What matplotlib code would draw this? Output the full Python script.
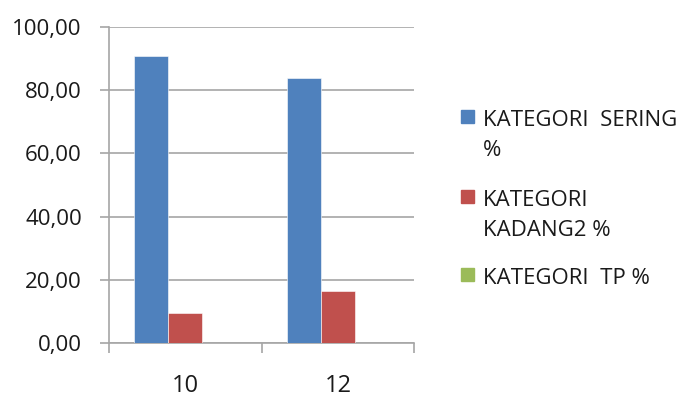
import matplotlib
matplotlib.use("Agg")
import matplotlib.pyplot as plt
from matplotlib.patches import Rectangle
from matplotlib.ticker import FuncFormatter, MultipleLocator

categories = ["10", "12"]
series_names = ["KATEGORI  SERING\n%", "KATEGORI\nKADANG2 %", "KATEGORI  TP %"]
sering = [90.7, 83.9]
kadang = [9.7, 16.5]
tp = [0.0, 0.0]
colors = ["#4f81bd", "#c0504d", "#9bbb59"]

plt.rcParams["font.family"] = ["Open Sans", "DejaVu Sans"]

fig = plt.figure(figsize=(6.86, 3.98), dpi=100)
ax = fig.add_axes([109 / 686, 1 - 343.3 / 398, (414.3 - 109) / 686, 316.6 / 398])

grey = "#a6a6a6"
ink = "#1a1a1a"
width = 0.222
xs = [i + 0.5 for i in range(len(categories))]
for k, (vals, col) in enumerate(zip([sering, kadang, tp], colors)):
    ax.bar([x + (k - 1) * width for x in xs], vals, width=width, color=col,
           edgecolor="white", linewidth=0.4, zorder=3)

ax.set_xlim(0, len(categories))
ax.set_ylim(0, 100)
ax.yaxis.set_major_locator(MultipleLocator(20))
ax.yaxis.set_major_formatter(FuncFormatter(lambda v, p: f"{v:.2f}".replace(".", ",")))
ax.grid(axis="y", color=grey, linewidth=1.2, zorder=0)

# category labels in the middle, tick marks on the boundaries
ax.set_xticks(xs)
ax.set_xticklabels(categories)
ax.set_xticks(range(len(categories) + 1), minor=True)
ax.tick_params(axis="x", which="major", length=0, pad=22, labelsize=17, labelcolor=ink)
ax.tick_params(axis="x", which="minor", length=7, color=grey, width=1.2)
ax.tick_params(axis="y", length=6.5, color=grey, width=1.2, pad=13, labelsize=16, labelcolor=ink)

for side in ["top", "right"]:
    ax.spines[side].set_visible(False)
for side in ["left", "bottom"]:
    ax.spines[side].set_color(grey)
    ax.spines[side].set_linewidth(1.2)

# legend on the right: square beside the first line of each label
W, H = 686, 398
cap_tops = [110, 190, 268]
line_gap = 30
for name, col, top in zip(series_names, colors, cap_tops):
    fig.patches.append(Rectangle((461 / W, 1 - (top + 13) / H), 13 / W, 13 / H,
                                 transform=fig.transFigure, color=col))
    for i, line in enumerate(name.split("\n")):
        fig.text(483 / W, 1 - (top + 16 + i * line_gap) / H, line, ha="left",
                 va="baseline", fontsize=16, color=ink)

fig.savefig("out.png", dpi=100)
